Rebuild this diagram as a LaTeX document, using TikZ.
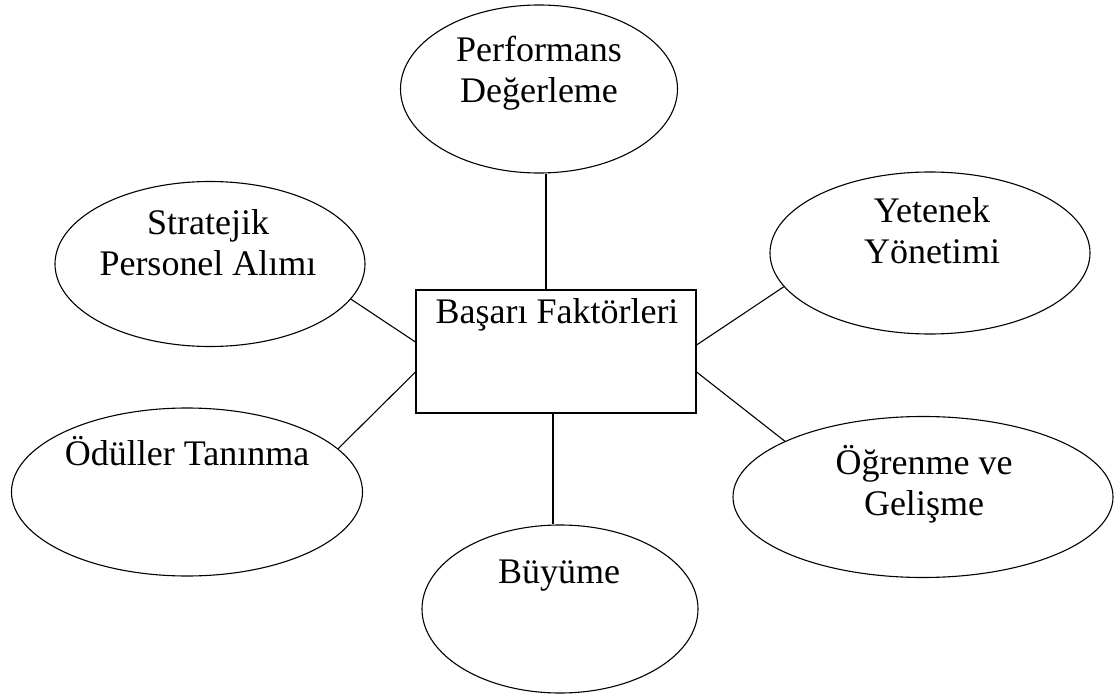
\documentclass[tikz,border=0pt]{standalone}
\usepackage{fontspec}
\setmainfont{Liberation Serif}
\usepackage{tikz}
\usetikzlibrary{positioning, shapes.geometric}

\begin{document}
\begin{tikzpicture}[x=1pt, y=-1pt]

	\tikzstyle{every node}=[font=\fontsize{36}{41}\selectfont] %yazı boyu
	\tikzstyle{factor} = [draw, ellipse, line width=1.1pt, inner sep=0pt]
	\tikzstyle{core}   = [draw, rectangle, line width=1.1pt, inner sep=0pt, minimum width=280pt, minimum height=123pt]
	\tikzstyle{lbl}    = [align=center, anchor=base, inner sep=0pt]
	\tikzstyle{link}   = [line width=1.1pt]

	\useasboundingbox (0,0) rectangle (1120,698);

	\node[core]                                                 (fakt)  at (556,351.5) {};
	\node[factor, minimum width=277pt, minimum height=168pt]    (perf)  at (539,89)  {};
	\node[factor, minimum width=310pt, minimum height=165pt]    (strat) at (210,264) {};
	\node[factor, minimum width=320pt, minimum height=162pt]    (yet)   at (930,253) {};
	\node[factor, minimum width=351pt, minimum height=168pt]    (odul)  at (187,492) {};
	\node[factor, minimum width=380pt, minimum height=161pt]    (ogr)   at (923,497) {};
	\node[factor, minimum width=276pt, minimum height=168pt]    (buy)   at (560,609) {};

	\node[lbl] (faktlbl)  at (557,323) {Başarı Faktörleri};
	\node[lbl] (perflbl)  at (539,103) {Performans\\Değerleme};
	\node[lbl] (stratlbl) at (208,275) {Stratejik\\Personel Alımı};
	\node[lbl] (yetlbl)   at (932,263) {Yetenek\\Yönetimi};
	\node[lbl] (odullbl)  at (187,465) {Ödüller Tanınma};
	\node[lbl] (ogrlbl)   at (924,515) {Öğrenme ve\\Gelişme};
	\node[lbl] (buylbl)   at (559,583) {Büyüme};

	\draw[link] ([xshift=-10pt]fakt.north) -- ([xshift=-10pt]fakt.north |- perf.south);
	\draw[link] ([xshift=-3pt]fakt.south)  -- ([xshift=-3pt]fakt.south |- buy.north);
	\draw[link] (strat.-14)  -- ([yshift=9.5pt]fakt.west);
	\draw[link] (odul.16)    -- ([yshift=-20.5pt]fakt.west);
	\draw[link] (yet.193.3)  -- ([yshift=6.5pt]fakt.east);
	\draw[link] (ogr.158.7)  -- ([yshift=-20.5pt]fakt.east);

\end{tikzpicture}
\end{document}
